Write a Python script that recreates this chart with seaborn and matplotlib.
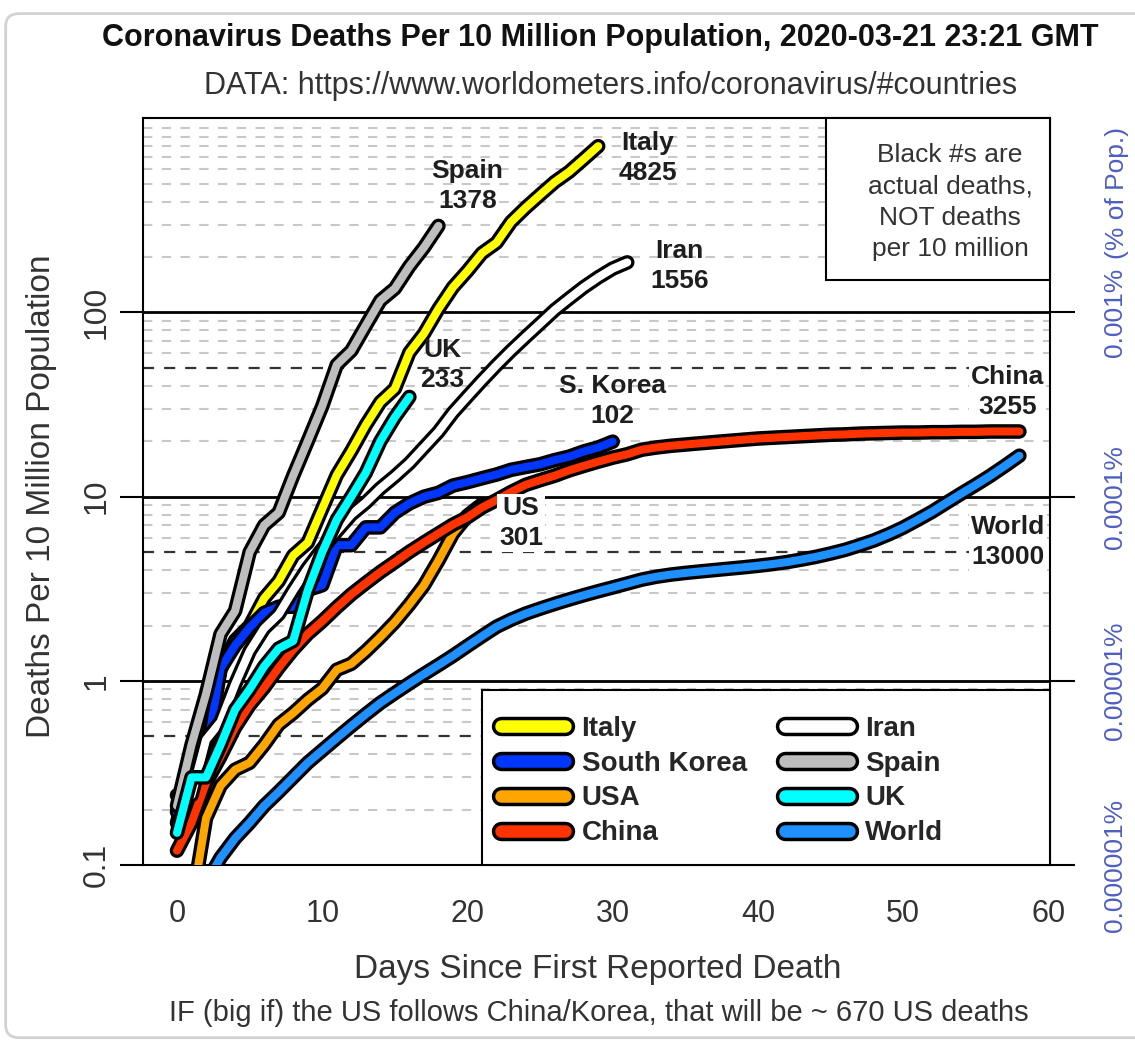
import numpy as np
import pandas as pd
import matplotlib
matplotlib.use("Agg")
import matplotlib.pyplot as plt
import matplotlib.patheffects as pe
from matplotlib.lines import Line2D
from matplotlib.patches import Rectangle, FancyBboxPatch
from matplotlib.ticker import NullLocator
from matplotlib.transforms import blended_transform_factory
import seaborn as sns

sns.set_style("white")
plt.rcParams['font.family'] = ['Liberation Sans', 'DejaVu Sans']

# deaths per 10 million population, one value per day since first death
italy = [0.17, 0.33, 0.50, 1.16, 1.66, 1.99, 2.81, 3.48, 4.80, 5.63, 8.6, 13.1, 17.7, 24.5, 32.6,
         38.6, 60.6, 76.7, 104.5, 137, 168, 210, 239, 310, 370, 435, 510, 580, 680, 799]
skorea = [0.195, 0.39, 0.39, 1.17, 1.56, 1.95, 2.34, 2.53, 2.53, 3.12, 3.31, 5.46, 5.46, 6.82, 6.82,
          8.19, 9.2, 10.0, 10.5, 11.5, 12.0, 12.6, 13.2, 14.0, 14.5, 15.0, 15.8, 16.5, 17.6, 18.5, 19.9]
usa = [0.03, 0.06, 0.18, 0.27, 0.33, 0.36, 0.45, 0.58, 0.67, 0.79, 0.91, 1.15, 1.24, 1.45, 1.73,
       2.09, 2.6, 3.3, 4.5, 6.3, 7.9, 9.1]
china = [0.12, 0.17, 0.28, 0.39, 0.56, 0.74, 0.92, 1.18, 1.48, 1.80,
         2.11, 2.51, 2.95, 3.40, 3.90, 4.42, 5.02, 5.64, 6.31, 7.06,
         7.74, 8.74, 9.59, 10.6, 11.6, 12.3, 13.0, 13.9, 14.7, 15.5,
         16.3, 17.0, 18.0, 18.5, 18.9, 19.2, 19.5, 19.8, 20.1, 20.4,
         20.7, 20.9, 21.1, 21.3, 21.5, 21.7, 21.8, 22.0, 22.1, 22.2,
         22.3, 22.3, 22.4, 22.4, 22.5, 22.5, 22.6, 22.6, 22.6]
iran = [0.24, 0.24, 0.48, 0.60, 0.96, 1.45, 1.93, 2.3, 3.1, 4.1, 5.2, 6.5, 8.0, 9.3, 11.1, 12.9,
        15.2, 18.5, 22.5, 28.6, 35.0, 42.7, 51.7, 62.0, 73.6, 87.0, 103, 119, 137, 155, 173, 187]
spain = [0.21, 0.45, 0.85, 1.8, 2.4, 5.0, 7.0, 8.2, 13.0, 20.0, 31.0, 52.0, 62.0, 85.0, 116,
         135, 178, 225, 295]
uk = [0.15, 0.30, 0.30, 0.45, 0.70, 0.90, 1.20, 1.50, 1.65, 3.1, 5.0, 7.5, 10.0, 13.5, 20.0, 27.0, 34.8]
world = [0.045, 0.06, 0.08, 0.11, 0.14, 0.17, 0.21, 0.25, 0.30, 0.36,
         0.42, 0.49, 0.57, 0.66, 0.76, 0.86, 0.97, 1.09, 1.22, 1.37,
         1.55, 1.75, 1.97, 2.15, 2.32, 2.47, 2.62, 2.77, 2.92, 3.07,
         3.22, 3.38, 3.55, 3.68, 3.78, 3.86, 3.93, 4.00, 4.07, 4.14,
         4.22, 4.31, 4.42, 4.56, 4.72, 4.92, 5.15, 5.45, 5.8, 6.25,
         6.8, 7.5, 8.3, 9.3, 10.4, 11.6, 13.0, 14.7, 16.7]

countries = ["Italy", "South Korea", "USA", "China", "Iran", "Spain", "UK", "World"]
colours = ["#ffff00", "#0037ff", "#ffa500", "#ff3300", "#ffffff", "#bebebe", "#00ffff", "#1e90ff"]
series = [italy, skorea, usa, china, iran, spain, uk, world]

# end-of-line labels (actual deaths)
end_labels = ["Italy\n4825", "S. Korea\n102", "US\n301", "China\n3255",
              "Iran\n1556", "Spain\n1378", "UK\n233", "World\n13000"]
label_x = [32.4, 30.0, 23.7, 57.2, 34.6, 20.0, 18.25, 57.2]
label_y = [689, 33, 7.2, 37, 179, 485, 51.8, 5.68]

pct_ticks = [0.1, 1, 10, 100]
pct_labels = ["0.000001%", "0.00001%", "0.0001%", "0.001%"]

rows = []
for name, vals in zip(countries, series):
    for d, v in enumerate(vals):
        rows.append((name, d, v))
df = pd.DataFrame(rows, columns=["country", "day", "value"])

fig = plt.figure(figsize=(11.35, 10.45), dpi=100)
ax = fig.add_axes([0.126, 0.172, 0.799, 0.715])
ax.set_yscale("log")

sns.lineplot(data=df, x="day", y="value", hue="country", hue_order=countries,
             palette=dict(zip(countries, colours)), estimator=None, legend=False,
             ax=ax, lw=5.8, solid_capstyle="round", zorder=3)
for line in list(ax.lines):
    line.set_path_effects([pe.Stroke(linewidth=10.5, foreground="black"), pe.Normal()])

# background grid lines
for dec in [0.1, 1, 10, 100]:
    for m in range(2, 11):
        v = dec * m
        if m == 10:
            if dec == 100:
                ax.axhline(v, color="#c8c8c8", lw=1.5, dashes=(4.5, 4.5), zorder=1)
            continue
        if m == 5 and dec < 100:
            ax.axhline(v, color="#333333", lw=1.6, dashes=(5, 4.5), zorder=1)
        else:
            ax.axhline(v, color="#c8c8c8", lw=1.5, dashes=(4.5, 4.5), zorder=1)
for v in [1, 10, 100]:
    ax.axhline(v, color="black", lw=2.0, zorder=1.5)

for t, x, y in zip(end_labels, label_x, label_y):
    box = None
    if t.startswith(("China", "World", "US")):
        box = dict(boxstyle="square,pad=0.08", fc="white", ec="none")
    ax.text(x, y, t, ha="center", va="center", fontsize=19, fontweight="bold",
            color="#1e1e1e", linespacing=1.3, zorder=6, bbox=box, clip_on=False)

ax.set_xlim(-2.34, 60.1)
ax.set_ylim(0.1, 1135)
ax.set_xticks(range(0, 61, 10))
ax.set_yticks(pct_ticks)
ax.set_yticklabels(["0.1", "1", "10", "100"], rotation=90, va="center")
ax.yaxis.set_minor_locator(NullLocator())
ax.set_xlabel("")
ax.set_ylabel("")
ax.tick_params(axis="x", direction="out", length=18, width=1.5, labelsize=22, pad=6,
               color="black", labelcolor="#333333")
ax.tick_params(axis="y", direction="out", length=16.5, width=1.5, labelsize=23, pad=6,
               color="black", labelcolor="#333333")
for s in ax.spines.values():
    s.set_color("black")
    s.set_linewidth(1.5)

ax2 = ax.twinx()
ax2.set_yscale("log")
ax2.set_ylim(0.1, 1135)
ax2.set_yticks(pct_ticks)
ax2.set_yticklabels(pct_labels, rotation=90, va="center")
ax2.yaxis.set_minor_locator(NullLocator())
ax2.tick_params(axis="y", direction="out", length=18, width=1.5, labelsize=19, pad=20,
                color="black", labelcolor="#4f5fc0")
for s in ax2.spines.values():
    s.set_visible(False)
trans = blended_transform_factory(ax.transAxes, ax.transData)
ax.text(1.0735, 445, "(% of Pop.)", transform=trans, rotation=90, ha="center", va="center",
        fontsize=19, color="#4f5fc0", clip_on=False)

# legend with its own frame
ax.add_patch(Rectangle((0.374, 0), 0.626, 0.234, transform=ax.transAxes, fc="white",
                       ec="black", lw=1.5, zorder=4, clip_on=False))
handles = [Line2D([], [], color=c, lw=9, solid_capstyle="round",
                  path_effects=[pe.Stroke(linewidth=14, foreground="black"), pe.Normal()])
           for c in colours]
ax.legend(handles, countries, ncol=2, loc="lower left", bbox_to_anchor=(0.374, 0.0),
          frameon=False, prop={"size": 20, "weight": "bold"}, handlelength=2.3,
          handletextpad=0.6, columnspacing=1.37, labelspacing=0.32, borderpad=0.68,
          borderaxespad=0)

# note box
ax.add_patch(Rectangle((0.753, 0.783), 0.247, 0.217, transform=ax.transAxes, fc="white",
                       ec="black", lw=1.5, zorder=4, clip_on=False))
ax.text(0.890, 0.8876, "Black #s are\nactual deaths,\nNOT deaths\nper 10 million",
        transform=ax.transAxes, ha="center", va="center", fontsize=19, color="#333333",
        linespacing=1.4, zorder=6)

fig.text(0.5286, 0.9636, "Coronavirus Deaths Per 10 Million Population, 2020-03-21 23:21 GMT",
         ha="center", va="center", fontsize=22, fontweight="bold", color="#111111")
fig.text(0.538, 0.9177, "DATA: https://www.worldometers.info/coronavirus/#countries",
         ha="center", va="center", fontsize=22, color="#333333")
fig.text(0.037, 0.525, "Deaths Per 10 Million Population", rotation=90, ha="center",
         va="center", fontsize=24, color="#333333")
fig.text(0.527, 0.0718, "Days Since First Reported Death", ha="center", va="center",
         fontsize=24, color="#333333")
fig.text(0.528, 0.0306, "IF (big if) the US follows China/Korea, that will be ~ 670 US deaths",
         ha="center", va="center", fontsize=21, color="#333333")

fig.patches.append(FancyBboxPatch((0.005, 0.007), 1.2, 0.98, boxstyle="round,pad=0,rounding_size=0.012",
                                  transform=fig.transFigure, fc="none", ec="#d2d2d2", lw=2))

fig.savefig("out.png", dpi=100)
